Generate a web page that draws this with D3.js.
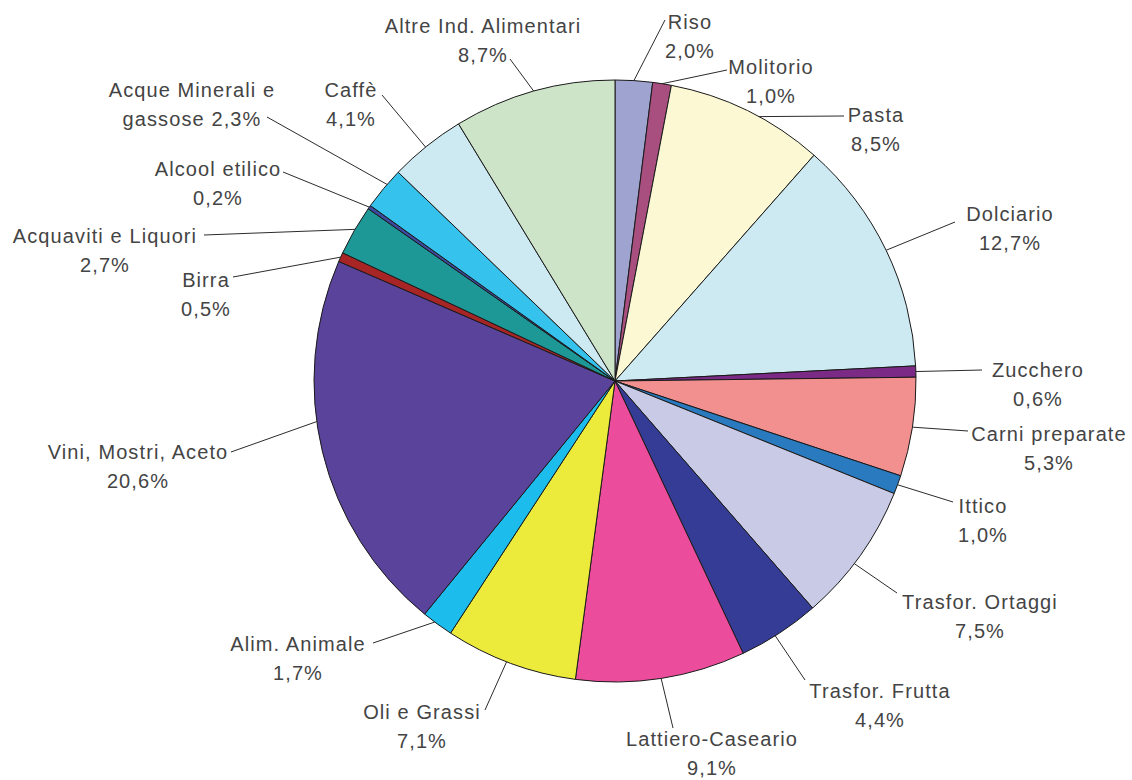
<!DOCTYPE html>
<html>
<head>
<meta charset="utf-8">
<script src="https://cdn.jsdelivr.net/npm/d3@7"></script>
<style>
  html, body { margin: 0; padding: 0; background: #fff; }
  svg { display: block; }
  .lbl { font-family: "Liberation Sans", Arial, sans-serif; font-size: 20px; fill: #444; letter-spacing: 1.1px; }
</style>
</head>
<body>
<svg id="chart" width="1132" height="780"></svg>
<script>
// Sectors of the food industry, share of turnover (%), clockwise from 12 o'clock
const categories = [
  "Riso", "Molitorio", "Pasta", "Dolciario", "Zucchero", "Carni preparate", "Ittico",
  "Trasfor. Ortaggi", "Trasfor. Frutta", "Lattiero-Caseario", "Oli e Grassi",
  "Alim. Animale", "Vini, Mostri, Aceto", "Birra", "Acquaviti e Liquori",
  "Alcool etilico", "Acque Minerali e gassose", "Caffè", "Altre Ind. Alimentari"
];
const shares = [2.0, 1.0, 8.5, 12.7, 0.6, 5.3, 1.0, 7.5, 4.4, 9.1, 7.1, 1.7, 20.6, 0.5, 2.7, 0.2, 2.3, 4.1, 8.7];
const colors = [
  "#9fa3d0", "#a84f80", "#fbf8d3", "#cdeaf2", "#7b2b86", "#f29090", "#2a7ac0",
  "#c9cbe6", "#343c96", "#eb4c9c", "#eceb3c", "#1cbdec", "#5a439a", "#a82526",
  "#1e9896", "#3c4aa0", "#35c3ee", "#cde9f2", "#cde4c9"
];
// Label lines as drawn (first line, second line)
const labelLines = [
  ["Riso", "2,0%"], ["Molitorio", "1,0%"], ["Pasta", "8,5%"], ["Dolciario", "12,7%"],
  ["Zucchero", "0,6%"], ["Carni preparate", "5,3%"], ["Ittico", "1,0%"],
  ["Trasfor. Ortaggi", "7,5%"], ["Trasfor. Frutta", "4,4%"], ["Lattiero-Caseario", "9,1%"],
  ["Oli e Grassi", "7,1%"], ["Alim. Animale", "1,7%"], ["Vini, Mostri, Aceto", "20,6%"],
  ["Birra", "0,5%"], ["Acquaviti e Liquori", "2,7%"], ["Alcool etilico", "0,2%"],
  ["Acque Minerali e", "gassose 2,3%"], ["Caffè", "4,1%"], ["Altre Ind. Alimentari", "8,7%"]
];

// Label placement: text centre x, first baseline y, leader end point, and where
// along the slice (0..1) the leader meets the rim.
const labelLayout = [
  { x: 690,  y: 29,  lx: 665, ly: 20,  t: 0.5 },
  { x: 771,  y: 74,  lx: 727, ly: 70,  t: 0.5 },
  { x: 876,  y: 122, lx: 844, ly: 116, t: 0.58 },
  { x: 1010, y: 221, lx: 955, ly: 222, t: 0.5 },
  { x: 1038, y: 377, lx: 982, ly: 370, t: 0.5 },
  { x: 1049, y: 441, lx: 968, ly: 431, t: 0.5 },
  { x: 983,  y: 513, lx: 953, ly: 502, t: 0.5 },
  { x: 980,  y: 609, lx: 897, ly: 593, t: 0.57 },
  { x: 880,  y: 698, lx: 805, ly: 680, t: 0.56 },
  { x: 712,  y: 746, lx: 673, ly: 728, t: 0.5 },
  { x: 422,  y: 719, lx: 485, ly: 710, t: 0.53 },
  { x: 298,  y: 651, lx: 373, ly: 643, t: 0.6 },
  { x: 138,  y: 459, lx: 231, ly: 452, t: 0.58 },
  { x: 206,  y: 287, lx: 233, ly: 277, t: 0.5 },
  { x: 105,  y: 243, lx: 204, ly: 235, t: 0.52 },
  { x: 218,  y: 176, lx: 283, ly: 172, t: 0.5 },
  { x: 192,  y: 97,  lx: 267, ly: 117, t: 0.62 },
  { x: 351,  y: 97,  lx: 382, ly: 95,  t: 0.48 },
  { x: 483,  y: 33,  lx: 510, ly: 59,  t: 0.5 }
];

const cx = 615, cy = 381, radius = 301, lineGap = 29;

const data = categories.map((c, i) => ({ name: c, value: shares[i], color: colors[i], lines: labelLines[i], lay: labelLayout[i] }));

const svg = d3.select("#chart");
const g = svg.append("g").attr("transform", `translate(${cx},${cy})`);

const pie = d3.pie().value(d => d.value).sort(null);
const arc = d3.arc().innerRadius(0).outerRadius(radius);
const arcs = pie(data);

g.selectAll("path.slice")
  .data(arcs)
  .join("path")
  .attr("class", "slice")
  .attr("d", arc)
  .attr("fill", d => d.data.color)
  .attr("stroke", "#1a1a1a")
  .attr("stroke-width", 1)
  .attr("stroke-linejoin", "round");

// Leader lines from the rim to each label
const rimPoint = d => {
  const a = d.startAngle + (d.endAngle - d.startAngle) * d.data.lay.t;
  return [cx + radius * Math.sin(a), cy - radius * Math.cos(a)];
};

svg.selectAll("line.leader")
  .data(arcs)
  .join("line")
  .attr("class", "leader")
  .attr("x1", d => rimPoint(d)[0])
  .attr("y1", d => rimPoint(d)[1])
  .attr("x2", d => d.data.lay.lx)
  .attr("y2", d => d.data.lay.ly)
  .attr("stroke", "#2b2b2b")
  .attr("stroke-width", 1);

const labels = svg.selectAll("text.lbl")
  .data(arcs)
  .join("text")
  .attr("class", "lbl")
  .attr("text-anchor", "middle");

labels.selectAll("tspan")
  .data(d => d.data.lines.map((s, k) => ({ s, k, lay: d.data.lay })))
  .join("tspan")
  .attr("x", d => d.lay.x)
  .attr("y", d => d.lay.y + d.k * lineGap)
  .text(d => d.s);
</script>
</body>
</html>
